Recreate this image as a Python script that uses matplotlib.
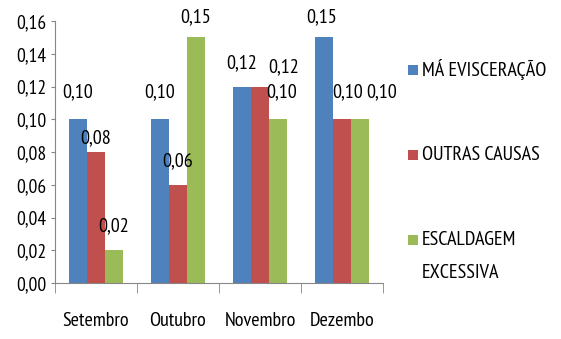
import numpy as np
import matplotlib
matplotlib.use('Agg')
import matplotlib.pyplot as plt
from matplotlib.patches import Rectangle
from matplotlib.ticker import FuncFormatter

MESES = ["Setembro", "Outubro", "Novembro", "Dezembo"]
SERIES = ["MÁ EVISCERAÇÃO", "OUTRAS CAUSAS", "ESCALDAGEM\nEXCESSIVA"]
MA_EVISCERACAO = [0.10, 0.10, 0.12, 0.15]
OUTRAS_CAUSAS = [0.08, 0.06, 0.12, 0.10]
ESCALDAGEM = [0.02, 0.15, 0.10, 0.10]

CORES = ["#4F81BD", "#C0504D", "#9BBB59"]

# label offsets (points) from each bar top, per series and month
OFFSETS = [
    [(0, 19.5), (0, 19.5), (0, 17), (-2, 14.4)],
    [(0, 10), (0, 17), (17, 13.7), (4, 19.5)],
    [(0, 17), (0, 14.4), (2.5, 19.5), (15.5, 19.5)],
]

plt.rcParams["font.family"] = ["PT Sans Narrow", "DejaVu Sans"]
FS = 14.5

W, H = 561, 339
fig = plt.figure(figsize=(W / 100, H / 100), dpi=100)
ax = fig.add_axes([55 / W, 56 / H, 328 / W, 262 / H])

x = np.arange(len(MESES))
w = 0.22
valores = [MA_EVISCERACAO, OUTRAS_CAUSAS, ESCALDAGEM]
for i, (vals, cor) in enumerate(zip(valores, CORES)):
    bars = ax.bar(x + (i - 1) * w, vals, w, color=cor)
    for bar, v, (dx, dy) in zip(bars, vals, OFFSETS[i]):
        ax.annotate(f"{v:.2f}".replace(".", ","),
                    (bar.get_x() + bar.get_width() / 2, v),
                    xytext=(dx, dy), textcoords="offset points",
                    ha="center", va="center", fontsize=FS)

ax.set_xlim(-0.5, 3.5)
ax.set_ylim(0, 0.16)
ax.set_yticks(np.arange(0, 0.161, 0.02))
ax.yaxis.set_major_formatter(FuncFormatter(lambda v, _: f"{v:.2f}".replace(".", ",")))
ax.set_xticks(x)
ax.set_xticklabels(MESES, fontsize=FS)
ax.set_xticks(np.arange(-0.5, 3.6, 1), minor=True)
ax.tick_params(axis="x", which="major", length=0, pad=21)
ax.tick_params(axis="x", which="minor", length=7, color="#868686")
ax.tick_params(axis="y", length=3, color="#868686", pad=3, labelsize=FS - 0.5)

for s in ["top", "right"]:
    ax.spines[s].set_visible(False)
for s in ["left", "bottom"]:
    ax.spines[s].set_color("#868686")

# legend drawn by hand: square markers with widely spaced labels
leg_y = [70, 155, 240]
for nome, cor, yc in zip(SERIES, CORES, leg_y):
    fig.add_artist(Rectangle((408 / W, 1 - (yc + 5) / H), 10 / W, 10 / H,
                             transform=fig.transFigure, color=cor, lw=0))
    linhas = nome.split("\n")
    for k, linha in enumerate(linhas):
        fig.text(422 / W, 1 - (yc + 33 * k) / H, linha,
                 ha="left", va="center", fontsize=FS)

fig.savefig("out.png", dpi=100)
